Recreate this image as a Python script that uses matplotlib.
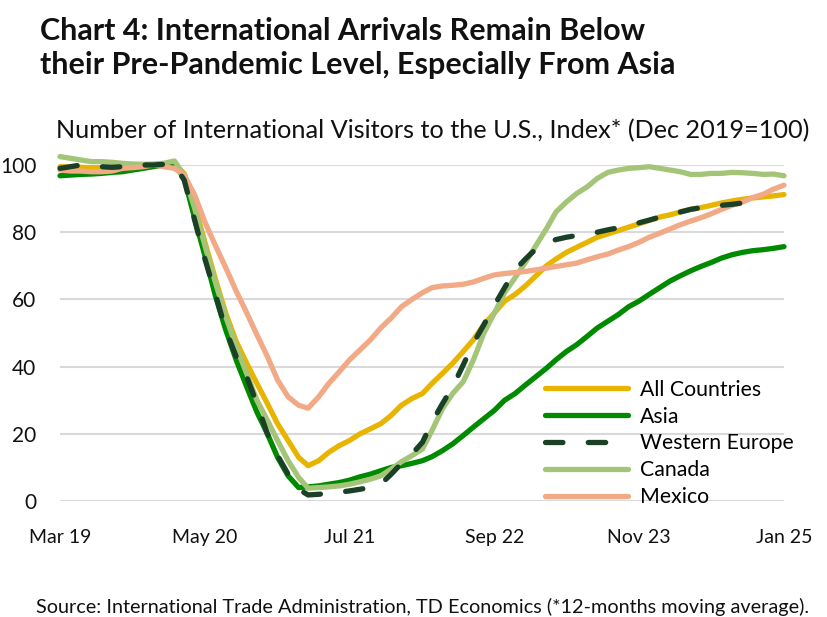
import numpy as np
import pandas as pd
import matplotlib
matplotlib.use("Agg")
import matplotlib.pyplot as plt

plt.rcParams['font.family'] = ['Lato', 'DejaVu Sans']
plt.rcParams['ytick.major.pad'] = 17
plt.rcParams['xtick.major.pad'] = 20

# monthly 12-month moving average index, Mar 2019 - Jan 2025
dates = pd.date_range('2019-03-01', periods=71, freq='MS')

all_countries = [99.5, 99.5, 99.3, 99.2, 99.2, 99.3, 99.5, 99.7, 100, 100, 100.3, 100,
                 97.5, 88, 77, 66, 56, 47.5, 41, 35, 29, 23, 18, 13, 10.5, 12,
                 14.5, 16.5, 18, 20, 21.5, 23, 25.5, 28.5, 30.5, 32, 35, 38, 41, 44.5,
                 48, 52.5, 56, 59.5, 61.5, 64, 67, 70, 72, 74, 75.5, 77, 78.5, 79.5,
                 80.5, 81.5, 82.5, 83.5, 84.5, 85.2, 86, 86.8, 87.3, 88, 88.7, 89.3,
                 89.8, 90.2, 90.5, 90.8, 91.2]
asia = [96.8, 97, 97.2, 97.3, 97.5, 97.8, 98, 98.5, 99, 99.5, 100, 100.3,
        96, 84, 73, 61, 51, 42, 34, 26.5, 20, 13, 7.5, 4, 4.2, 4.5,
        5, 5.5, 6.2, 7.2, 8, 9, 10, 10.5, 11.2, 12, 13.2, 15, 17, 19.5,
        22, 24.5, 27, 30, 32, 34.5, 37, 39.5, 42, 44.5, 46.5, 49, 51.5, 53.5,
        55.5, 57.8, 59.5, 61.5, 63.5, 65.5, 67, 68.5, 69.8, 71, 72.3, 73.3,
        74, 74.5, 74.8, 75.2, 75.7]
western_europe = [99, 99.5, 100, 99.8, 99.5, 99.3, 99.5, 99.7, 100, 100, 100.2, 100,
                  95.5, 83.5, 72, 61.5, 51, 43, 37, 29, 20, 13.5, 8, 3.5, 1.8, 2,
                  2.3, 2.6, 3, 3.5, 4, 5, 8, 11.2, 14, 17.5, 23.5, 29, 34, 40.5,
                  47, 52.5, 58.3, 63.5, 68.8, 72, 75, 76.8, 77.8, 78.5, 79, 79.5, 80, 80.7,
                  81.3, 82, 82.8, 83.6, 84.5, 85.3, 86, 86.8, 87.3, 87.7, 88, 88.3,
                  88.7, 89, 89.3]
canada = [102.5, 102, 101.5, 101, 101, 100.8, 100.5, 100.3, 100.2, 100.3, 100.5, 101.2,
          97, 87, 76, 65, 55, 46, 38, 30, 24, 18, 12, 7, 3.8, 4,
          4.2, 4.5, 5, 5.7, 6.5, 7.5, 9.5, 11.7, 13.5, 15.5, 21, 27.5, 32, 35.5,
          42, 50, 56, 62, 66.5, 71, 76, 81, 86, 89, 91.5, 93.5, 96, 97.8,
          98.5, 99, 99.2, 99.5, 99, 98.5, 98, 97.2, 97.2, 97.5, 97.5, 97.8,
          97.7, 97.5, 97.2, 97.3, 96.8]
mexico = [98.5, 98.2, 98.2, 98, 98, 98.2, 99, 99.2, 99.5, 100, 99.5, 99,
          97, 91, 83, 76, 69.5, 62.5, 56, 49.5, 43, 36, 31, 28.5, 27.6, 31,
          35, 38.5, 42, 45, 48, 51.5, 54.5, 57.8, 60, 62, 63.5, 64, 64.2, 64.5,
          65.2, 66.3, 67.3, 67.7, 68, 68.3, 68.8, 69.3, 69.8, 70.3, 70.8, 71.8, 72.7, 73.5,
          74.7, 75.7, 77, 78.5, 79.7, 81, 82.2, 83.3, 84.3, 85.5, 86.8, 88,
          89, 90.3, 91.3, 92.8, 94]

tick_dates = dates[::14]
tick_labels = ['Mar 19', 'May 20', 'Jul 21', 'Sep 22', 'Nov 23', 'Jan 25']
y_ticks = [0, 20, 40, 60, 80, 100]

fig = plt.figure(figsize=(8.27, 6.17), dpi=100)
ax = fig.add_axes([60/827, 1 - 501/617, 724/827, 336/617])

lw = 3.8
style = dict(lw=lw, clip_on=False, solid_capstyle='round')
ax.plot(dates, all_countries, color='#E8B400', label='All Countries', zorder=3, **style)
ax.plot(dates, asia, color='#008A00', label='Asia', zorder=4, **style)
ax.plot(dates[:len(western_europe)], western_europe, color='#1A4027',
        ls=(0, (3.3, 4.8)), dash_capstyle='round', label='Western Europe', zorder=6, **style)
ax.plot(dates, canada, color='#A4C477', label='Canada', zorder=5, **style)
ax.plot(dates, mexico, color='#F1A986', label='Mexico', zorder=5, **style)

ax.set_xlim(dates[0], dates[-1])
ax.set_ylim(0, 100)
ax.set_yticks(y_ticks)
ax.set_xticks(tick_dates)
ax.set_xticklabels(tick_labels)
ax.tick_params(axis='both', length=0, colors='#111111')
ax.tick_params(axis='x', labelsize=14, pad=20)
ax.tick_params(axis='y', labelsize=15, pad=17)
ax.grid(axis='y', color='#D9D9D9', lw=1.5)
ax.set_axisbelow(True)
for s in ax.spines.values():
    s.set_visible(False)

leg = ax.legend(loc='lower left', bbox_to_anchor=(545/827, 1 - 507/617),
                bbox_transform=fig.transFigure, frameon=False, fontsize=15.3,
                handlelength=3.9, handletextpad=0.55, labelspacing=0.32,
                borderaxespad=0, borderpad=0)

fig.text(40/827, 1 - 17/617, 'Chart 4: International Arrivals Remain Below\ntheir Pre-Pandemic Level, Especially From Asia',
         fontsize=22, fontweight='bold', va='top', ha='left', linespacing=1.24, color='#111111')
fig.text(0.5 * (55 + 810) / 827, 1 - 131/617, 'Number of International Visitors to the U.S., Index* (Dec 2019=100)',
         fontsize=18.2, ha='center', va='center', color='#111111')
fig.text(0.5 * (33 + 812) / 827, 1 - 607/617,
         'Source: International Trade Administration, TD Economics (*12-months moving average).',
         fontsize=14.3, ha='center', va='center', color='#111111')

fig.savefig('out.png', dpi=100)
